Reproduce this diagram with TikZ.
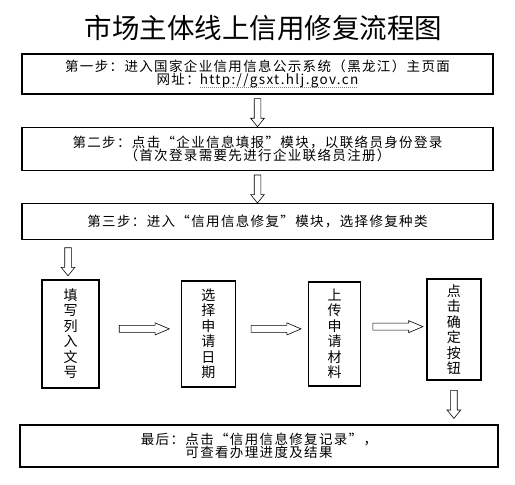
\documentclass[tikz,border=0pt]{standalone}
\usepackage{fontspec}
\setmainfont{Noto Sans CJK SC}
\newfontfamily\boxfont[LetterSpace=10]{Noto Sans CJK SC}
\usepackage{tikz}
\usetikzlibrary{shapes,arrows,positioning,calc}

% dotted underline for the web address
\newcommand\dotlink[1]{\setbox0\hbox{#1}\rlap{\raisebox{-2.5pt}{\color{gray}\hbox to \wd0{\leaders\hbox to 2pt{\hss\rule{0.8pt}{0.6pt}\hss}\hfill}}}\box0}

\begin{document}
\begin{tikzpicture}[
    x=1pt, y=1pt,
    node distance=32pt,
    stepbox/.style={draw, line width=1.3pt, align=center, inner sep=0pt, minimum width=471pt, font=\boxfont\fontsize{13.5}{13.5}\selectfont},
    colbox/.style={draw, line width=1.3pt, align=center, inner sep=0pt, font=\fontsize{14}{15.5}\selectfont},
    downarrow/.style={single arrow, draw, line width=0.6pt, inner sep=3pt, single arrow head extend=3.5pt, single arrow tip angle=78, minimum height=28pt, shape border rotate=270},
    rightarrow/.style={single arrow, draw, line width=0.6pt, inner sep=3.2pt, single arrow head extend=2.5pt, single arrow tip angle=46, minimum height=50pt}
]
    \useasboundingbox (0,0) rectangle (515,-485);

    \node[stepbox, minimum height=40pt] (step1) at (257.5,-74) {第一步：进入国家企业信用信息公示系统（黑龙江）主页面\\网址：\dotlink{http://gsxt.hlj.gov.cn}};
    \node[font=\fontsize{27.5}{30}\selectfont, inner sep=0pt, above=12pt of step1, xshift=6pt] (title) {市场主体线上信用修复流程图};
    \node[stepbox, minimum height=43pt, below=of step1] (step2) {第二步：点击“企业信息填报”模块，以联络员身份登录\\（首次登录需要先进行企业联络员注册）};
    \node[stepbox, minimum height=36pt, below=of step2] (step3) {第三步：进入“信用信息修复”模块，选择修复种类};

    \node[colbox, minimum width=57pt, minimum height=108pt, below right=39pt and 20pt of step3.south west] (fillno) {填\\写\\列\\入\\文\\号};
    \node[colbox, minimum width=54pt, minimum height=106pt, right=81pt of fillno] (pickdate) {选\\择\\申\\请\\日\\期};
    \node[colbox, minimum width=52pt, minimum height=104pt, right=72pt of pickdate] (upload) {上\\传\\申\\请\\材\\料};
    \node[colbox, minimum width=54pt, minimum height=101pt, right=65pt of upload, yshift=4.5pt] (confirm) {点\\击\\确\\定\\按\\钮};

    \node[stepbox, minimum width=478pt, minimum height=42pt, below=184pt of step3, xshift=1.5pt] (last) {最后：点击“信用信息修复记录”，\\可查看办理进度及结果};

    \path (step1) -- node[downarrow] (arr1) {} (step2);
    \path (step2) -- node[downarrow] (arr2) {} (step3);
    \path (step3.south -| fillno.north) -- node[downarrow, xshift=-2.5pt] (arr3) {} (fillno.north);
    \path (confirm.south) -- node[downarrow] (arr4) {} (confirm.south |- last.north);
    \path ([yshift=5pt]fillno.east) -- node[rightarrow] (arr5) {} ([yshift=5pt]pickdate.west);
    \path ([yshift=5pt]pickdate.east) -- node[rightarrow] (arr6) {} ([yshift=5pt]upload.west);
    \path ([yshift=5pt]upload.east) -- node[rightarrow] (arr7) {} ([yshift=5pt]confirm.west);
\end{tikzpicture}
\end{document}
